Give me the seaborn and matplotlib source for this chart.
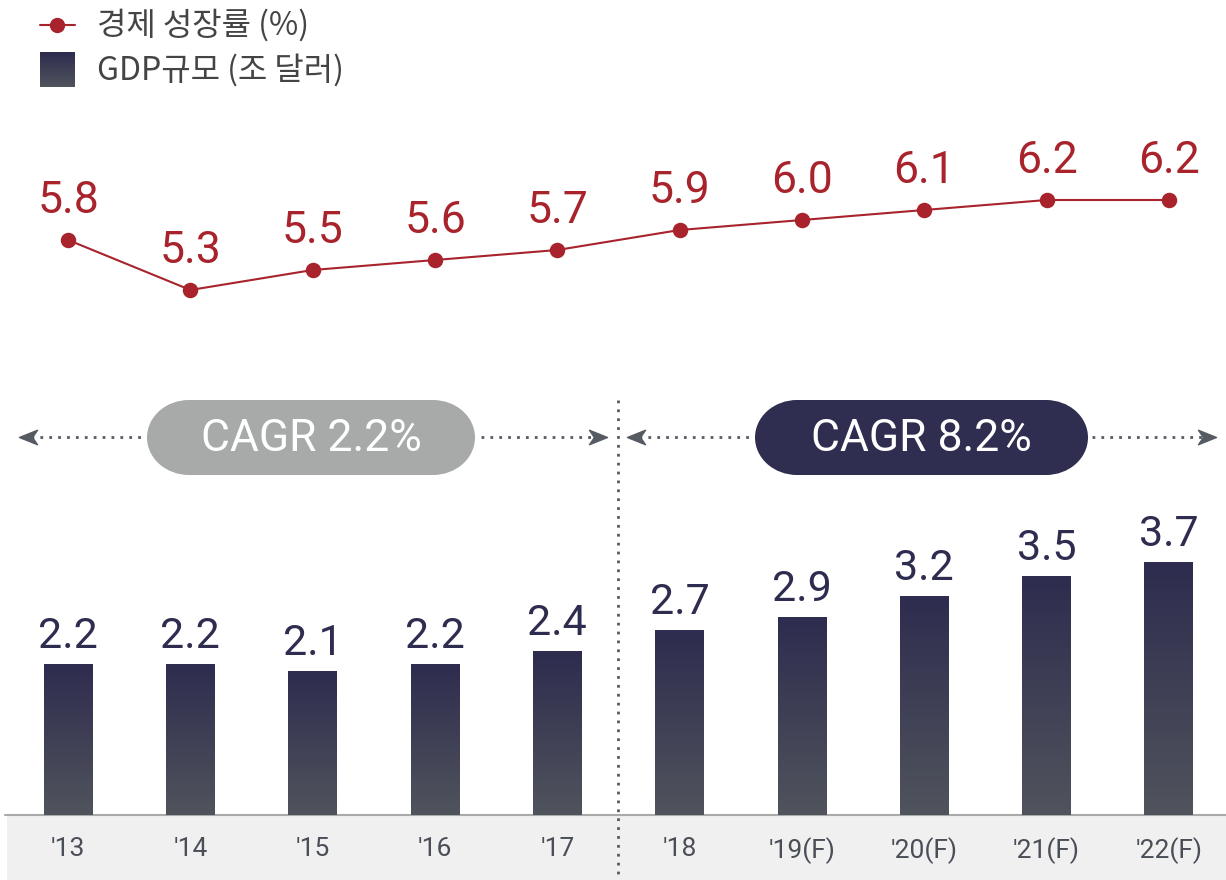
import numpy as np
import pandas as pd
import matplotlib
matplotlib.use('Agg')
import matplotlib.pyplot as plt
import seaborn as sns
from matplotlib.patches import Rectangle, Ellipse
from matplotlib.colors import LinearSegmentedColormap
from matplotlib.path import Path

# ---- data ----
years = ["'13", "'14", "'15", "'16", "'17", "'18", "'19(F)", "'20(F)", "'21(F)", "'22(F)"]
growth = [5.8, 5.3, 5.5, 5.6, 5.7, 5.9, 6.0, 6.1, 6.2, 6.2]
gdp = [2.2, 2.2, 2.1, 2.2, 2.4, 2.7, 2.9, 3.2, 3.5, 3.7]
cagr_labels = ["CAGR 2.2%", "CAGR 8.2%"]
legend_labels = ["경제 성장률 (%)", "GDP규모 (조 달러)"]

# ---- style ----
RED = '#a8232c'
NAVY = '#2e2c4f'
NAVY_BOT = '#50545c'
PILL_GREY = '#a7aaa9'
PILL_NAVY = '#302e50'
ARROW = '#555a63'
TICK = '#4a4e57'
LEG = '#444444'

sns.set_style('white')
plt.rcParams['font.family'] = ['Roboto', 'Noto Sans CJK KR', 'DejaVu Sans']
NUM = ['Roboto', 'DejaVu Sans']
KR = ['Noto Sans CJK KR', 'DejaVu Sans']

W, H = 1226, 880
fig = plt.figure(figsize=(12.26, 8.8), dpi=100)

# overlay axes in pixel units for decorations
ov = fig.add_axes([0, 0, 1, 1], zorder=0)
ov.set_facecolor('none')

XL = (-68 / 122.1, 9 + 57 / 122.1)
df = pd.DataFrame({'year': years, 'gdp': gdp, 'growth': growth})

# ---- bar axes ----
base, top_px, ppu = 815, 380, 68.2
axb = fig.add_axes([0, (H - base) / H, 1, (base - top_px) / H], zorder=1)
axb.set_facecolor('none')
sns.barplot(data=df, x='year', y='gdp', ax=axb, width=0.4, color=NAVY, saturation=1)
grad = np.linspace(0, 1, 256).reshape(-1, 1)
cmap = LinearSegmentedColormap.from_list('g', [NAVY_BOT, NAVY])
for p in list(axb.patches):
    x0, y0, w, h = p.get_x(), p.get_y(), p.get_width(), p.get_height()
    axb.imshow(grad, extent=(x0, x0 + w, y0, y0 + h), origin='lower', cmap=cmap,
               aspect='auto', zorder=2, interpolation='bilinear')
    p.set_visible(False)
for i, v in enumerate(gdp):
    axb.annotate(f'{v:.1f}', (i, v), xytext=(0, 12), textcoords='offset points',
                 ha='center', va='baseline', fontsize=31, color=NAVY, family=NUM)
axb.set_xlim(*XL)
axb.set_ylim(0, (base - top_px) / ppu)
axb.set_xlabel('')
axb.set_ylabel('')
axb.set_yticks([])
for s in axb.spines.values():
    s.set_visible(False)
axb.tick_params(axis='x', length=0, pad=16, labelsize=19, labelcolor=TICK)

# ---- line axes ----
axl = fig.add_axes([0, (H - 340) / H, 1, 220 / H], zorder=1)
axl.set_facecolor('none')
sns.pointplot(data=df, x='year', y='growth', ax=axl, color=RED, markers='o',
              markersize=10, linewidth=1.5, errorbar=None)
for i, v in enumerate(growth):
    axl.annotate(f'{v:.1f}', (i, v), xytext=(0, 19.5), textcoords='offset points',
                 ha='center', va='baseline', fontsize=32, color=RED, family=NUM)
axl.set_xlim(*XL)
axl.set_ylim(4.8, 7.0)
axl.axis('off')

# ---- decorations (pixel coords) ----
ov.add_patch(Rectangle((7, 816), W - 7, 64, fc='#f0f0f0', ec='none', zorder=1))
ov.plot([5, W], [815, 815], color='#aaaaaa', lw=1.5, zorder=2)
dot = (0, (1, 2.2))
ov.plot([618, 618], [400, 880], color=ARROW, lw=2, linestyle=dot, zorder=3)

arrow_path = Path([(-1, 0), (1, 0.8), (0.45, 0), (1, -0.8), (-1, 0)],
                  [Path.MOVETO, Path.LINETO, Path.LINETO, Path.LINETO, Path.CLOSEPOLY])
arrow_r = Path([(1, 0), (-1, 0.8), (-0.45, 0), (-1, -0.8), (1, 0)],
               [Path.MOVETO, Path.LINETO, Path.LINETO, Path.LINETO, Path.CLOSEPOLY])

def dotted_arrow(xs, xe, y, left):
    ov.plot([xs, xe], [y, y], color=ARROW, lw=2, linestyle=dot, zorder=3)
    if left:
        ov.plot([xs - 3], [y], marker=arrow_path, ms=13, color=ARROW, zorder=3)
    else:
        ov.plot([xe + 3], [y], marker=arrow_r, ms=13, color=ARROW, zorder=3)

y_arr = 437
dotted_arrow(31, 143, y_arr, True)
dotted_arrow(481, 595, y_arr, False)
dotted_arrow(639, 752, y_arr, True)
dotted_arrow(1092, 1204, y_arr, False)

ph, rx = 75, 42
pills = [((147, 400), 328, PILL_GREY, cagr_labels[0]),
         ((755, 400), 333, PILL_NAVY, cagr_labels[1])]
for (px, py), pw, col, lab in pills:
    ov.add_patch(Rectangle((px + rx, py), pw - 2 * rx, ph, fc=col, ec='none', zorder=4))
    ov.add_patch(Ellipse((px + rx, py + ph / 2), 2 * rx, ph, fc=col, ec='none', zorder=4))
    ov.add_patch(Ellipse((px + pw - rx, py + ph / 2), 2 * rx, ph, fc=col, ec='none', zorder=4))
    ov.text(px + pw / 2, py + 39, lab, ha='center', va='center', fontsize=32,
            color='white', family=NUM, zorder=5)

# legend
ov.plot([40, 75], [25, 25], color=RED, lw=1.5, zorder=3)
ov.plot([57], [25], marker='o', ms=10, color=RED, zorder=4)
ov.imshow(grad, extent=(40, 75, 87, 52), origin='lower', cmap=cmap, aspect='auto',
          zorder=3, interpolation='bilinear')
ov.text(97, 25, legend_labels[0], ha='left', va='center', fontsize=23, color=LEG,
        family=KR, weight='medium')
ov.text(97, 70, legend_labels[1], ha='left', va='center', fontsize=23, color=LEG,
        family=KR, weight='medium')

ov.set_xlim(0, W)
ov.set_ylim(H, 0)
ov.axis('off')

fig.savefig('out.png', dpi=100)
